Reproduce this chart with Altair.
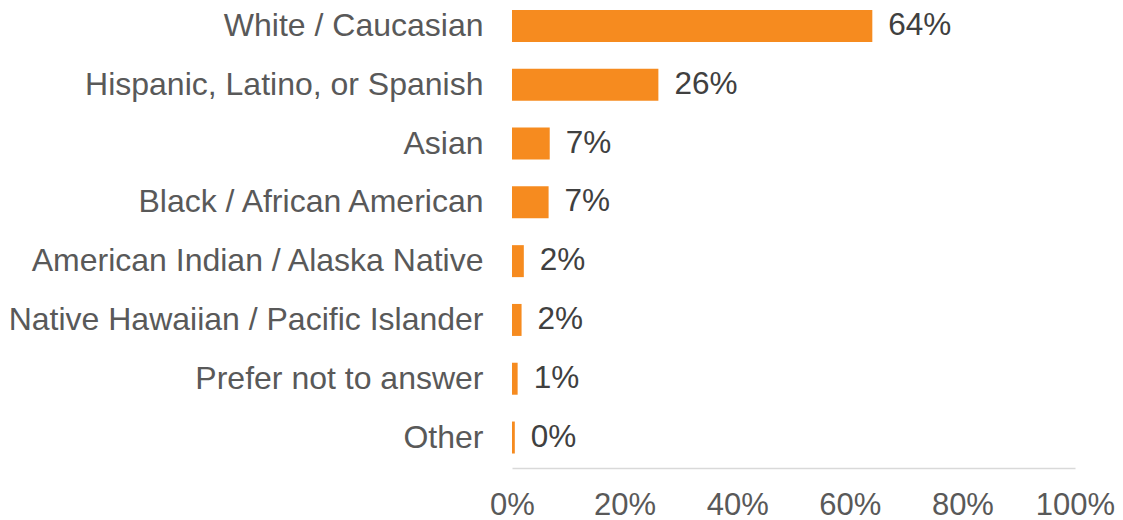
import altair as alt
import pandas as pd

categories = [
    "White / Caucasian",
    "Hispanic, Latino, or Spanish",
    "Asian",
    "Black / African American",
    "American Indian / Alaska Native",
    "Native Hawaiian / Pacific Islander",
    "Prefer not to answer",
    "Other",
]
values = [0.64, 0.26, 0.067, 0.065, 0.021, 0.017, 0.010, 0.005]
labels = ["64%", "26%", "7%", "7%", "2%", "2%", "1%", "0%"]

df = pd.DataFrame({"category": categories, "value": values, "label": labels})

FONT = "Liberation Sans"

y_enc = alt.Y(
    "category:N",
    sort=categories,
    title=None,
    scale=alt.Scale(paddingInner=0.456, paddingOuter=0.14, align=0.12),
    axis=alt.Axis(
        domain=False,
        ticks=False,
        labelFont=FONT,
        labelFontSize=32,
        labelColor="#595959",
        labelPadding=29,
        labelLimit=600,
    ),
)

x_enc = alt.X(
    "value:Q",
    title=None,
    scale=alt.Scale(domain=[0, 1], nice=False),
    axis=alt.Axis(
        values=[0, 0.2, 0.4, 0.6, 0.8, 1.0],
        format=".0%",
        grid=False,
        ticks=False,
        domainColor="#D9D9D9",
        domainWidth=1.5,
        labelFont=FONT,
        labelFontSize=31,
        labelColor="#595959",
        labelPadding=22,
        labelFlush=False,
    ),
)

bars = alt.Chart(df).mark_bar(color="#F68B1F").encode(x=x_enc, y=y_enc)

text = alt.Chart(df).mark_text(
    align="left",
    baseline="middle",
    dx=16,
    font=FONT,
    fontSize=31.5,
    color="#404040",
).encode(x="value:Q", y=alt.Y("category:N", sort=categories), text="label:N")

chart = (
    (bars + text)
    .properties(
        width=563,
        height=460,
        background="white",
        autosize=alt.AutoSizeParams(type="none"),
        padding={"left": 504, "top": 0, "right": 40, "bottom": 52},
    )
    .configure_view(strokeWidth=0, strokeOpacity=0)
)

chart.save("out.html", embed_options={"renderer": "svg", "actions": False})
